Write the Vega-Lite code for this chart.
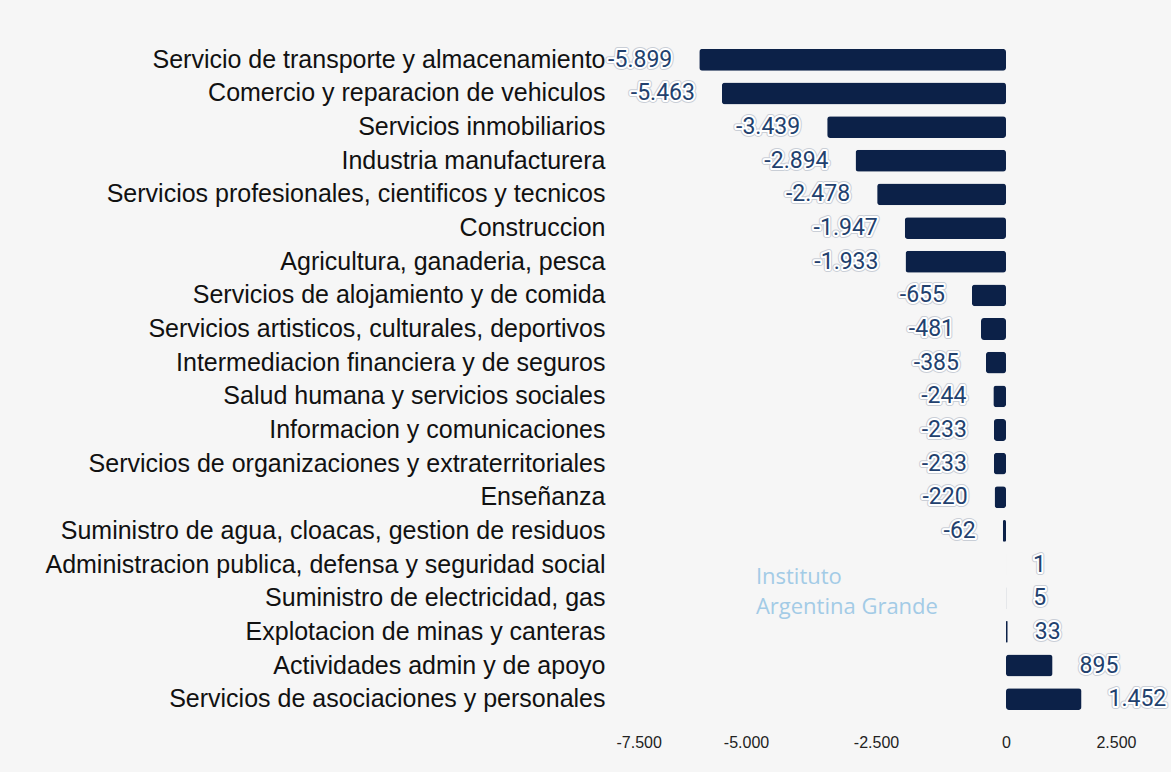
{
  "$schema": "https://vega.github.io/schema/vega-lite/v6.json",
  "width": 520,
  "height": 673,
  "padding": {"left": 44, "top": 43, "right": 4, "bottom": 22},
  "background": "#f6f6f6",
  "config": {
    "view": {"stroke": null},
    "locale": {"number": {"decimal": ",", "thousands": ".", "grouping": [3], "currency": ["$", ""], "minus": "-"}}
  },
  "data": {"values": [
    {"sector": "Servicio de transporte y almacenamiento", "value": -5899},
    {"sector": "Comercio  y reparacion de vehiculos", "value": -5463},
    {"sector": "Servicios inmobiliarios", "value": -3439},
    {"sector": "Industria manufacturera", "value": -2894},
    {"sector": "Servicios profesionales, cientificos y tecnicos", "value": -2478},
    {"sector": "Construccion", "value": -1947},
    {"sector": "Agricultura, ganaderia, pesca", "value": -1933},
    {"sector": "Servicios de alojamiento y de comida", "value": -655},
    {"sector": "Servicios artisticos, culturales, deportivos", "value": -481},
    {"sector": "Intermediacion financiera y de seguros", "value": -385},
    {"sector": "Salud humana y servicios sociales", "value": -244},
    {"sector": "Informacion y comunicaciones", "value": -233},
    {"sector": "Servicios de organizaciones y extraterritoriales", "value": -233},
    {"sector": "Enseñanza", "value": -220},
    {"sector": "Suministro de agua, cloacas, gestion de residuos", "value": -62},
    {"sector": "Administracion publica, defensa y seguridad social", "value": 1},
    {"sector": "Suministro de electricidad, gas", "value": 5},
    {"sector": "Explotacion de minas y canteras", "value": 33},
    {"sector": "Actividades admin y de apoyo", "value": 895},
    {"sector": "Servicios de asociaciones y personales", "value": 1452}
  ]},
  "encoding": {
    "y": {
      "field": "sector", "type": "nominal", "sort": null,
      "scale": {"paddingInner": 0.35, "paddingOuter": 0.175},
      "axis": {"title": null, "domain": false, "ticks": false, "labelFontSize": 25, "labelFont": "Liberation Sans", "labelColor": "#111111", "labelPadding": 11, "labelLimit": 800}
    },
    "x": {
      "field": "value", "type": "quantitative",
      "scale": {"domain": [-7500, 2500], "nice": false},
      "axis": {"title": null, "values": [-7500, -5000, -2500, 0, 2500], "format": ",d", "grid": false, "domain": false, "ticks": false, "labelFontSize": 16, "labelFont": "Liberation Sans", "labelColor": "#222222", "labelPadding": 18}
    }
  },
  "layer": [
    {"mark": {"type": "bar", "color": "#0c2148", "cornerRadius": 3}},
    {
      "transform": [{"filter": "datum.value < 0"}],
      "mark": {"type": "text", "align": "right", "baseline": "middle", "dx": -27, "fontSize": 23, "font": "Roboto", "stroke": "#c9ced6", "strokeWidth": 6, "strokeJoin": "round", "fill": "#c9ced6"},
      "encoding": {"text": {"field": "value", "type": "quantitative", "format": ",d"}}
    },
    {
      "transform": [{"filter": "datum.value < 0"}],
      "mark": {"type": "text", "align": "right", "baseline": "middle", "dx": -27, "fontSize": 23, "font": "Roboto", "stroke": "#ffffff", "strokeWidth": 4, "strokeJoin": "round", "fill": "#ffffff"},
      "encoding": {"text": {"field": "value", "type": "quantitative", "format": ",d"}}
    },
    {
      "transform": [{"filter": "datum.value < 0"}],
      "mark": {"type": "text", "align": "right", "baseline": "middle", "dx": -27, "fontSize": 23, "font": "Roboto", "fill": "#22416e"},
      "encoding": {"text": {"field": "value", "type": "quantitative", "format": ",d"}}
    },
    {
      "transform": [{"filter": "datum.value >= 0"}],
      "mark": {"type": "text", "align": "left", "baseline": "middle", "dx": 27, "fontSize": 23, "font": "Roboto", "stroke": "#c9ced6", "strokeWidth": 6, "strokeJoin": "round", "fill": "#c9ced6"},
      "encoding": {"text": {"field": "value", "type": "quantitative", "format": ",d"}}
    },
    {
      "transform": [{"filter": "datum.value >= 0"}],
      "mark": {"type": "text", "align": "left", "baseline": "middle", "dx": 27, "fontSize": 23, "font": "Roboto", "stroke": "#ffffff", "strokeWidth": 4, "strokeJoin": "round", "fill": "#ffffff"},
      "encoding": {"text": {"field": "value", "type": "quantitative", "format": ",d"}}
    },
    {
      "transform": [{"filter": "datum.value >= 0"}],
      "mark": {"type": "text", "align": "left", "baseline": "middle", "dx": 27, "fontSize": 23, "font": "Roboto", "fill": "#22416e"},
      "encoding": {"text": {"field": "value", "type": "quantitative", "format": ",d"}}
    },
    {
      "transform": [{"filter": "datum.sector == 'Administracion publica, defensa y seguridad social'"}],
      "mark": {"type": "text", "align": "left", "baseline": "middle", "fontSize": 22, "font": "Open Sans", "fill": "#a3cbe6", "dy": 12},
      "encoding": {
        "x": {"datum": -4810, "type": "quantitative"},
        "text": {"value": "Instituto"}
      }
    },
    {
      "transform": [{"filter": "datum.sector == 'Suministro de electricidad, gas'"}],
      "mark": {"type": "text", "align": "left", "baseline": "middle", "fontSize": 22, "font": "Open Sans", "fill": "#a3cbe6", "dy": 9},
      "encoding": {
        "x": {"datum": -4810, "type": "quantitative"},
        "text": {"value": "Argentina Grande"}
      }
    }
  ]
}
